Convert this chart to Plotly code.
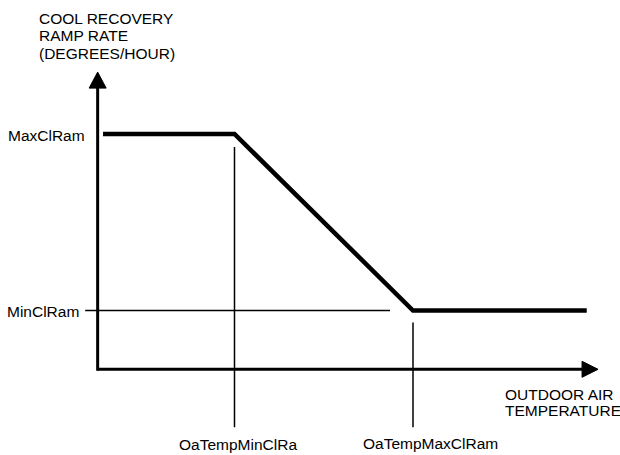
"""Cool recovery ramp rate vs outdoor air temperature (schematic)."""
import plotly.graph_objects as go

# Schedule breakpoints (schematic units)
oa_temp = [0.9, 23, 53, 82.2]          # outdoor air temperature
ramp_rate = [10, 10, 2.5, 2.5]         # cool recovery ramp rate
max_cl_ram = 10
min_cl_ram = 2.5
oa_temp_min_cl_ra = 23
oa_temp_max_cl_ram = 53
axis_x_end = 84.1
axis_y_end = 12.63

y_title_lines = ["COOL RECOVERY", "RAMP RATE", "(DEGREES/HOUR)"]
x_title_lines = ["OUTDOOR AIR", "TEMPERATURE"]

W, H = 620, 455
X0, SX = 97.65, 5.95     # px of x=0, px per x unit
Y0, SY = 369.3, 23.53    # px of y=0, px per y unit
FONT = "Arial, Liberation Sans, sans-serif"
BLACK = "#000000"


def px_x(p):
    return p / SX


def px_y(p):
    return p / SY


fig = go.Figure()

# axes
fig.add_trace(go.Scatter(x=[0, axis_x_end - px_x(16)], y=[0, 0], mode="lines",
                         line=dict(color=BLACK, width=3)))
fig.add_trace(go.Scatter(x=[0, 0], y=[-px_y(1.5), axis_y_end - px_y(16)], mode="lines",
                         line=dict(color=BLACK, width=3)))
# arrow heads
fig.add_trace(go.Scatter(
    x=[axis_x_end, axis_x_end - px_x(16), axis_x_end - px_x(16), axis_x_end],
    y=[0, px_y(8), -px_y(8), 0],
    mode="lines", fill="toself", fillcolor=BLACK, line=dict(color=BLACK, width=1)))
fig.add_trace(go.Scatter(
    x=[0, -px_x(8.5), px_x(8.5), 0],
    y=[axis_y_end, axis_y_end - px_y(16), axis_y_end - px_y(16), axis_y_end],
    mode="lines", fill="toself", fillcolor=BLACK, line=dict(color=BLACK, width=1)))

# leader lines
fig.add_trace(go.Scatter(x=[-px_x(12.5), oa_temp_max_cl_ram - px_x(23)],
                         y=[min_cl_ram, min_cl_ram], mode="lines",
                         line=dict(color=BLACK, width=1.5)))
fig.add_trace(go.Scatter(x=[oa_temp_min_cl_ra, oa_temp_min_cl_ra],
                         y=[max_cl_ram - px_y(13), -px_y(58)], mode="lines",
                         line=dict(color=BLACK, width=1.5)))
fig.add_trace(go.Scatter(x=[oa_temp_max_cl_ram, oa_temp_max_cl_ram],
                         y=[min_cl_ram - px_y(12), -px_y(58)], mode="lines",
                         line=dict(color=BLACK, width=1.5)))

# schedule
fig.add_trace(go.Scatter(x=oa_temp, y=ramp_rate, mode="lines",
                         line=dict(color=BLACK, width=4.5)))

font = dict(family=FONT, size=15.5, color=BLACK)
ann = []
ann.append(dict(x=-px_x(10.5), y=max_cl_ram, text="MaxClRam", xanchor="right",
                yanchor="middle", yshift=-1.5))
ann.append(dict(x=-px_x(16.5), y=min_cl_ram, text="MinClRam", xanchor="right",
                yanchor="middle", yshift=-1.5))
ann.append(dict(x=oa_temp_min_cl_ra, y=-px_y(75), text="OaTempMinClRa",
                xanchor="center", yanchor="middle", xshift=3))
ann.append(dict(x=oa_temp_max_cl_ram, y=-px_y(74), text="OaTempMaxClRam",
                xanchor="center", yanchor="middle", xshift=17))
for i, t in enumerate(x_title_lines):
    ann.append(dict(x=(503 - X0) / SX, y=-px_y(25.5 + 15.5 * i), text=t,
                    xanchor="left", yanchor="middle"))
for i, t in enumerate(y_title_lines):
    ann.append(dict(x=(37 - X0) / SX, y=(Y0 - 18.3 - 17.6 * i) / SY, text=t,
                    xanchor="left", yanchor="middle"))
for a in ann:
    a.update(showarrow=False, font=font)

fig.update_layout(
    width=W, height=H,
    margin=dict(l=0, r=0, t=0, b=0, pad=0),
    paper_bgcolor="white", plot_bgcolor="white",
    showlegend=False,
    annotations=ann,
    xaxis=dict(range=[-X0 / SX, (W - X0) / SX], visible=False, fixedrange=True),
    yaxis=dict(range=[(Y0 - H) / SY, Y0 / SY], visible=False, fixedrange=True),
)

# the page's default 8px body margin would shift the drawing
fig.write_html("out.html", config=dict(displayModeBar=False),
               post_script="document.body.style.margin='0';")
